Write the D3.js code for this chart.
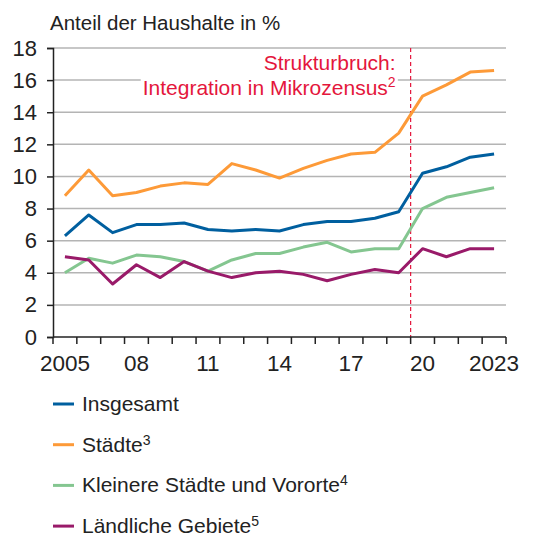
<!doctype html>
<html>
<head>
<meta charset="utf8">
<title>Anteil der Haushalte</title>
<script src="https://cdn.jsdelivr.net/npm/d3@7"></script>
<style>
  body { margin: 0; background: #fff; }
  svg { font-family: "Liberation Sans", Arial, sans-serif; }
</style>
</head>
<body>
<div id="chart"></div>
<script>
"use strict";
const years = d3.range(2005, 2024);
const tickYears = [2005, 2008, 2011, 2014, 2017, 2020, 2023];
const tickLabels = ["2005", "08", "11", "14", "17", "20", "2023"];
const yTicks = [0, 2, 4, 6, 8, 10, 12, 14, 16, 18];

const insgesamt = [6.3, 7.6, 6.5, 7.0, 7.0, 7.1, 6.7, 6.6, 6.7, 6.6, 7.0, 7.2, 7.2, 7.4, 7.8, 10.2, 10.6, 11.2, 11.4];
const staedte   = [8.8, 10.4, 8.8, 9.0, 9.4, 9.6, 9.5, 10.8, 10.4, 9.9, 10.5, 11.0, 11.4, 11.5, 12.7, 15.0, 15.7, 16.5, 16.6];
const kleinere  = [4.0, 4.9, 4.6, 5.1, 5.0, 4.7, 4.1, 4.8, 5.2, 5.2, 5.6, 5.9, 5.3, 5.5, 5.5, 8.0, 8.7, 9.0, 9.3];
const laendlich = [5.0, 4.8, 3.3, 4.5, 3.7, 4.7, 4.1, 3.7, 4.0, 4.1, 3.9, 3.5, 3.9, 4.2, 4.0, 5.5, 5.0, 5.5, 5.5];

const seriesNames = ["Insgesamt", "Städte", "Kleinere Städte und Vororte", "Ländliche Gebiete"];
const seriesSup = ["", "3", "4", "5"];
const seriesColors = ["#005f9f", "#fd9a38", "#84c690", "#991a69"];
const seriesValues = [insgesamt, staedte, kleinere, laendlich];

const width = 538, height = 536;
const margin = {left: 53, right: 32, top: 48, bottom: 199};

const svg = d3.select("#chart").append("svg")
    .attr("width", width).attr("height", height);

const x = d3.scaleBand()
    .domain(years)
    .range([margin.left, width - margin.right]);
const y = d3.scaleLinear()
    .domain([0, 18])
    .range([height - margin.bottom, margin.top]);

// gridlines
svg.append("g").selectAll("line")
    .data(yTicks.filter(d => d > 0))
    .join("line")
    .attr("x1", margin.left).attr("x2", width - margin.right)
    .attr("y1", d => y(d)).attr("y2", d => y(d))
    .attr("stroke", "#b4b4b4").attr("stroke-width", 1.5);

// annotation (white box covers gridline)
const ann = svg.append("g").attr("fill", "#e4163c").attr("font-size", 21).attr("text-anchor", "end");
const annX = x(2020) - 15;
const t2 = ann.append("text").attr("x", annX).attr("y", 95);
t2.append("tspan").text("Integration in Mikrozensus");
t2.append("tspan").attr("font-size", 14).attr("dy", -8).text("2");
const bb = t2.node().getBBox();
ann.insert("rect", "text")
    .attr("x", bb.x - 2).attr("y", y(16) - 2)
    .attr("width", bb.width + 4).attr("height", 4)
    .attr("fill", "#fff");
ann.append("text").attr("x", annX).attr("y", 70).text("Strukturbruch:");

// break line
svg.append("line")
    .attr("x1", x(2020)).attr("x2", x(2020))
    .attr("y1", margin.top).attr("y2", y(0))
    .attr("stroke", "#e4163c").attr("stroke-width", 1.2)
    .attr("stroke-dasharray", "4,3");

// lines
const line = d3.line()
    .x((d, i) => x(years[i]) + x.bandwidth() / 2)
    .y(d => y(d));
svg.append("g").selectAll("path")
    .data(seriesValues)
    .join("path")
    .attr("d", d => line(d))
    .attr("fill", "none")
    .attr("stroke", (d, i) => seriesColors[i])
    .attr("stroke-width", 3)
    .attr("stroke-linejoin", "round");

// y axis
const yAxis = svg.append("g")
    .attr("transform", `translate(${margin.left},0)`)
    .call(d3.axisLeft(y).tickValues(yTicks).tickSize(6).tickPadding(10));
yAxis.select(".domain").attr("stroke", "#222").attr("stroke-width", 1.5);
yAxis.selectAll(".tick line").attr("stroke", "#222").attr("stroke-width", 1.5);
yAxis.selectAll("text").attr("font-size", 22).attr("fill", "#222")
    .attr("font-family", "Liberation Sans, Arial, sans-serif");

// x axis: ticks at band edges
const edges = years.map(yr => x(yr)).concat([x(2023) + x.bandwidth()]);
const xg = svg.append("g");
xg.append("line")
    .attr("x1", margin.left).attr("x2", width - margin.right)
    .attr("y1", y(0)).attr("y2", y(0))
    .attr("stroke", "#222").attr("stroke-width", 1.5);
xg.selectAll("line.tk")
    .data(edges)
    .join("line").attr("class", "tk")
    .attr("x1", d => d).attr("x2", d => d)
    .attr("y1", y(0)).attr("y2", y(0) + 7)
    .attr("stroke", "#222").attr("stroke-width", 1.5);
xg.selectAll("text")
    .data(tickYears)
    .join("text")
    .attr("x", d => x(d) + x.bandwidth() / 2)
    .attr("y", y(0) + 34)
    .attr("text-anchor", "middle")
    .attr("font-size", 22.5).attr("fill", "#222")
    .text((d, i) => tickLabels[i]);

// title
svg.append("text")
    .attr("x", 50).attr("y", 30)
    .attr("font-size", 20.5).attr("fill", "#222")
    .text("Anteil der Haushalte in %");

// legend
const lg = svg.append("g").selectAll("g")
    .data(seriesNames)
    .join("g")
    .attr("transform", (d, i) => `translate(53,${404 + i * 40.7})`);
lg.append("line")
    .attr("x1", 0).attr("x2", 21)
    .attr("stroke", (d, i) => seriesColors[i]).attr("stroke-width", 3);
const lt = lg.append("text")
    .attr("x", 29).attr("y", 7)
    .attr("font-size", 21).attr("fill", "#222");
lt.append("tspan").text(d => d);
lt.append("tspan").attr("font-size", 14).attr("dy", -7).text((d, i) => seriesSup[i]);
</script>
</body>
</html>
